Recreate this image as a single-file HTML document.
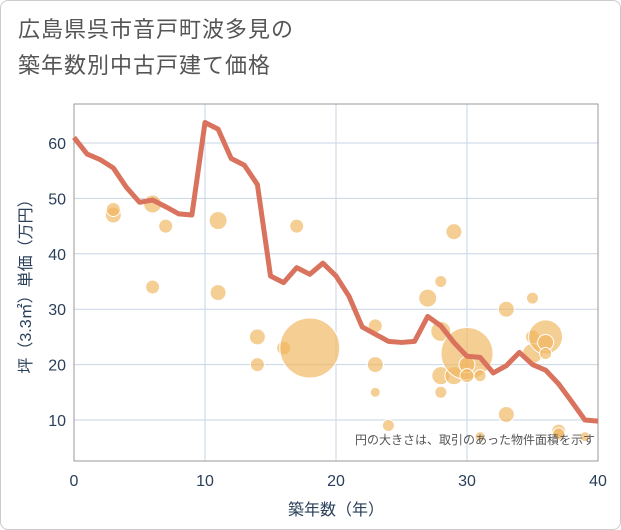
<!DOCTYPE html>
<html><head><meta charset="utf-8"><style>
body{margin:0;background:#fff;}
.wrap{position:relative;width:619px;height:528px;border:1px solid #ccc;border-radius:8px;overflow:hidden;background:#fff;font-family:"Liberation Sans","Noto Sans CJK JP",sans-serif;}
.title{position:absolute;left:17px;top:11px;font-size:22px;line-height:36px;color:#555;letter-spacing:1px;}
</style></head><body>
<div class="wrap">
<div class="title">広島県呉市音戸町波多見の<br>築年数別中古戸建て価格</div>
<svg id="chart" width="621" height="530" style="position:absolute;left:0;top:0"></svg>
</div>
<script>
const lineYears=[0,1,2,3,4,5,6,7,8,9,10,11,12,13,14,15,16,17,18,19,20,21,22,23,24,25,26,27,28,29,30,31,32,33,34,35,36,37,38,39,40];
const lineValues=[61,58,57,55.5,52,49.3,49.7,48.5,47.2,47,63.7,62.5,57.2,56,52.5,36,34.8,37.5,36.3,38.3,36,32.3,26.8,25.5,24.2,24,24.2,28.7,27,24,21.5,21.3,18.5,19.8,22.2,20,19,16.5,13.3,10,9.8];
const bubbleYears=[3,3,6,6,7,11,11,14,14,16,17,18,23,23,23,24,27,28,28,28,28,29,29,30,30,30,31,31,33,33,35,35,35,36,36,36,37,37,39];
const bubblePrices=[47,48,49,34,45,46,33,25,20,23,45,23,27,20,15,9,32,35,26,18,15,44,18,22,20,18,18,7,30,11,32,25,22,25,24,22,8,7.5,7];
const bubbleSizes=[8,7,9,7,7,9,8,8,7,7,7,30,7,8,5,6,9,6,10,9,6,8,9,26,8,7,6,5,8,8,6,7,10,17,8,6,7,6,5];
const xTicks=[0,10,20,30,40];
const yTicks=[10,20,30,40,50,60];
const L=73,R=597,T=103,B=460;
const xs=v=>L+(v-0)/40*(R-L);
const ys=v=>474.4-v*5.54;
const svg=document.getElementById('chart');
const NS='http://www.w3.org/2000/svg';
function mk(t,a){const e=document.createElementNS(NS,t);for(const k in a)e.setAttribute(k,a[k]);svg.appendChild(e);return e;}
yTicks.forEach(v=>{
 const g=mk('line',{x1:L,x2:R,y1:ys(v),y2:ys(v),stroke:'#c9d6e6','stroke-width':1});
 
 
 const t=mk('text',{x:L-8,y:ys(v)+6,'text-anchor':'end','font-size':16,fill:'#2a3f5a'});
 t.textContent=v;
 
 
});
xTicks.forEach(v=>{
 const g=mk('line',{x1:xs(v),x2:xs(v),y1:T,y2:B,stroke:'#c9d6e6','stroke-width':1});
 
 
 const t=mk('text',{x:xs(v),y:B+25,'text-anchor':'middle','font-size':16,fill:'#2a3f5a'});
 t.textContent=v;
 
 
});
const frame=mk('rect',{x:L,y:T,width:R-L,height:B-T,fill:'none',stroke:'#999','stroke-width':1});


bubbleYears.forEach((x,i)=>{
 const c=mk('circle',{cx:xs(x),cy:ys(bubblePrices[i]),r:bubbleSizes[i],fill:'rgba(240,180,90,0.65)',stroke:'#fff','stroke-width':1});
 
 
});
const pl=mk('polyline',{points:lineYears.map((x,i)=>xs(x)+','+ys(lineValues[i])).join(' '),fill:'none',stroke:'#d9735e','stroke-width':5,'stroke-linejoin':'round'});


const note=mk('text',{x:R-3,y:443,'text-anchor':'end','font-size':12,fill:'#555'});
note.textContent='円の大きさは、取引のあった物件面積を示す';


const xt=mk('text',{x:(L+R)/2,y:514,'text-anchor':'middle','font-size':16,fill:'#2a3f5a'});
xt.textContent='築年数（年）';


const yt=mk('text',{x:0,y:0,'text-anchor':'middle','font-size':16,fill:'#2a3f5a',transform:'translate(30,'+((T+B)/2)+') rotate(-90)'});
yt.textContent='坪（3.3㎡）単価（万円）';


</script>
</body></html>
